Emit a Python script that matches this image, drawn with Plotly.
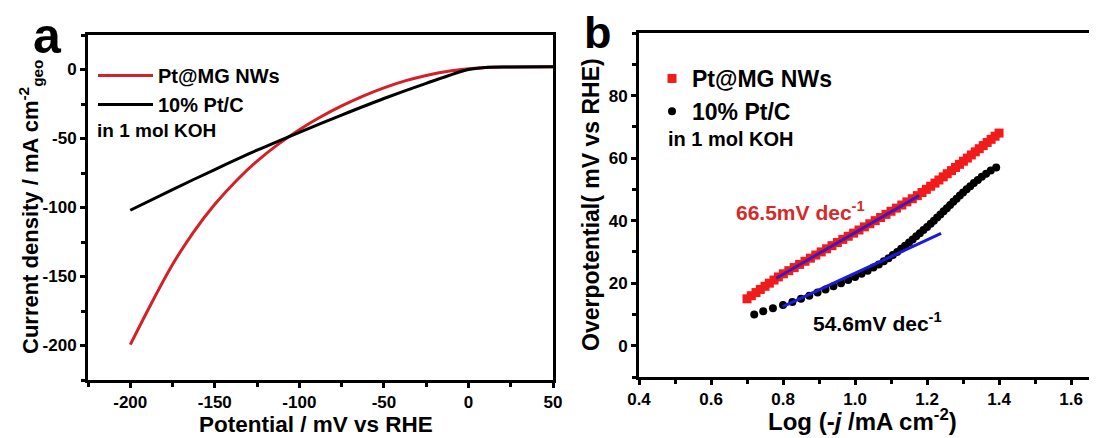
import plotly.graph_objects as go

# ---------------- Panel a: polarization curves ----------------
a_red_x = [-200, -188, -175, -163, -150, -137, -125, -112, -100, -87, -75, -62, -50, -37, -25, -12, 0, 10, 25, 50]
a_red_y = [-199.4, -170.6, -141.3, -118.5, -97.7, -80.2, -66.4, -53.7, -43.6, -34.1, -26.4, -19.1, -13.3, -8.1, -4.3, -1.2, 0.5, 1.5, 1.8, 2]
a_blk_x = [-200, -175, -150, -125, -100, -75, -50, -25, 0, 10, 25, 50]
a_blk_y = [-102, -87, -72.5, -58.5, -45.5, -33, -21, -10, 0, 1.5, 1.8, 2]
a_xtickvals = [-200, -150, -100, -50, 0, 50]
a_xticktext = ["-200", "-150", "-100", "-50", "0", "50"]
a_ytickvals = [0, -50, -100, -150, -200]
a_yticktext = ["0", "-50", "-100", "-150", "-200"]

# ---------------- Panel b: Tafel plots ----------------
b_red_x = [0.700, 0.712, 0.725, 0.737, 0.750, 0.762, 0.775, 0.787, 0.801, 0.816,
           0.831, 0.846, 0.861, 0.876, 0.891, 0.906, 0.921, 0.936, 0.951, 0.966,
           0.981, 0.996, 1.011, 1.026, 1.041, 1.056, 1.071, 1.086, 1.100, 1.115,
           1.130, 1.144, 1.159, 1.173, 1.186, 1.198, 1.210, 1.222, 1.233, 1.245,
           1.256, 1.268, 1.279, 1.290, 1.301, 1.312, 1.323, 1.334, 1.345, 1.356,
           1.367, 1.378, 1.389, 1.400]
b_red_y = [15, 16, 17, 18, 19, 20, 21, 22, 23, 24,
           25, 26, 27, 28, 29, 30, 31, 32, 33, 34,
           35, 36, 37, 38, 39, 40, 41, 42, 43, 44,
           45, 46, 47, 48, 49, 50, 51, 52, 53, 54,
           55, 56, 57, 58, 59, 60, 61, 62, 63, 64,
           65, 66, 67, 68]
b_blk_x = [0.720, 0.745, 0.772, 0.800, 0.826, 0.850, 0.873, 0.896, 0.918, 0.940,
           0.961, 0.981, 1.000, 1.018, 1.035, 1.051, 1.066, 1.080, 1.093, 1.105,
           1.117, 1.128, 1.139, 1.150, 1.160, 1.170, 1.180, 1.190, 1.200, 1.210,
           1.219, 1.228, 1.237, 1.246, 1.255, 1.264, 1.273, 1.282, 1.291, 1.300,
           1.310, 1.320, 1.330, 1.341, 1.352, 1.364, 1.377, 1.392]
b_blk_y = [10, 11, 12, 13, 14, 15, 16, 17, 18, 19,
           20, 21, 22, 23, 24, 25, 26, 27, 28, 29,
           30, 31, 32, 33, 34, 35, 36, 37, 38, 39,
           40, 41, 42, 43, 44, 45, 46, 47, 48, 49,
           50, 51, 52, 53, 54, 55, 56, 57]
fit_red_x = [0.781, 1.178]
fit_red_y = [21.6, 48.0]
fit_blk_x = [0.799, 1.239]
fit_blk_y = [12.5, 35.9]

series_names = ["Pt@MG NWs", "10% Pt/C"]
slope_labels = ["66.5mV dec<sup>-1</sup>", "54.6mV dec<sup>-1</sup>"]

# The page body keeps its default 8px margin, so the figure is sized to fill
# the rest of the 1097x438 window; positions below are given in window pixels.
OFF = 8
W, H = 1097 - OFF, 438 - OFF
FONT = "Arial, Liberation Sans, sans-serif"
RED_LINE = "#d42027"
RED_MK = "#f21b1b"
BLUE = "#1c1cd8"


def px(x):
    return (x - OFF) / W


def py(y):
    return 1 - (y - OFF) / H


fig = go.Figure()

fig.add_trace(go.Scatter(x=a_red_x, y=a_red_y, mode="lines", name=series_names[0],
                         line=dict(color=RED_LINE, width=3, shape="spline", smoothing=1.0),
                         xaxis="x", yaxis="y", legend="legend"))
fig.add_trace(go.Scatter(x=a_blk_x, y=a_blk_y, mode="lines", name=series_names[1],
                         line=dict(color="black", width=3, shape="spline", smoothing=0.8),
                         xaxis="x", yaxis="y", legend="legend"))

fig.add_trace(go.Scatter(x=b_red_x, y=b_red_y, mode="markers", name=series_names[0],
                         marker=dict(symbol="square", size=9, color=RED_MK),
                         xaxis="x2", yaxis="y2", legend="legend2"))
fig.add_trace(go.Scatter(x=b_blk_x, y=b_blk_y, mode="markers", name=series_names[1],
                         marker=dict(symbol="circle", size=8, color="black"),
                         xaxis="x2", yaxis="y2", legend="legend2"))
fig.add_trace(go.Scatter(x=fit_red_x, y=fit_red_y, mode="lines", showlegend=False,
                         line=dict(color=BLUE, width=3), opacity=0.85,
                         xaxis="x2", yaxis="y2"))
fig.add_trace(go.Scatter(x=fit_blk_x, y=fit_blk_y, mode="lines", showlegend=False,
                         line=dict(color=BLUE, width=3),
                         xaxis="x2", yaxis="y2"))

tickfont = dict(family=FONT, size=17, color="black", weight="bold")
axis_common = dict(showgrid=False, zeroline=False, showline=True, linecolor="black",
                   linewidth=3, ticks="outside", ticklen=5, tickwidth=2.5,
                   tickcolor="black", tickfont=tickfont, automargin=False)
minor_common = dict(ticks="outside", ticklen=4, tickwidth=2.5, tickcolor="black")

fig.update_layout(
    width=W, height=H,
    margin=dict(l=0, r=0, t=0, b=0),
    paper_bgcolor="white", plot_bgcolor="white",
    font=dict(family=FONT, color="black"),
    xaxis=dict(domain=[px(88), px(553)], range=[-225, 50],
               tickvals=a_xtickvals, ticktext=a_xticktext,
               mirror=True, anchor="y",
               minor=dict(dtick=25, tick0=-225, **minor_common),
               **axis_common),
    yaxis=dict(domain=[py(380), py(35)], range=[-225, 25],
               tickvals=a_ytickvals, ticktext=a_yticktext,
               mirror=True, anchor="x",
               minor=dict(dtick=25, tick0=0, **minor_common),
               **axis_common),
    xaxis2=dict(domain=[px(639), 1.0], range=[0.4, 1.672], tick0=0.4, dtick=0.2,
                tickformat=".1f", mirror=True, anchor="y2",
                minor=dict(dtick=0.1, tick0=0.4, **minor_common),
                **axis_common),
    yaxis2=dict(domain=[py(377), py(33)], range=[-10, 100],
                tickvals=[0, 20, 40, 60, 80],
                mirror=False, anchor="x2",
                minor=dict(dtick=10, tick0=0, **minor_common),
                **axis_common),
    legend=dict(x=px(93), y=py(56), xanchor="left", yanchor="top",
                bgcolor="rgba(0,0,0,0)", tracegroupgap=0, itemwidth=55,
                font=dict(family=FONT, size=20, color="black", weight="bold")),
    legend2=dict(x=px(652), y=py(57), xanchor="left", yanchor="top",
                 bgcolor="rgba(0,0,0,0)", tracegroupgap=0,
                 font=dict(family=FONT, size=23, color="black", weight="bold")),
)

ann = []
bold = dict(family=FONT, color="black", weight="bold")
# panel letters
ann.append(dict(text="a", x=px(31), y=py(36), xref="paper", yref="paper", xanchor="left",
                yanchor="middle", showarrow=False, font=dict(size=50, **bold)))
ann.append(dict(text="b", x=px(582), y=py(32), xref="paper", yref="paper", xanchor="left",
                yanchor="middle", showarrow=False, font=dict(size=45, **bold)))
# axis titles
ann.append(dict(text="Potential / mV vs RHE", x=px(316), y=py(424.5), xref="paper", yref="paper",
                xanchor="center", yanchor="middle", showarrow=False, font=dict(size=22.5, **bold)))
ann.append(dict(text="Current density / mA cm<sup>-2</sup><sub>geo</sub>", x=px(30), y=py(207),
                xref="paper", yref="paper", xanchor="center", yanchor="middle", textangle=-90,
                showarrow=False, font=dict(size=22, **bold)))
ann.append(dict(text="Log (-<i>j</i> /mA cm<sup>-2</sup>)", x=px(862), y=py(420), xref="paper", yref="paper",
                xanchor="center", yanchor="middle", showarrow=False, font=dict(size=24, **bold)))
ann.append(dict(text="Overpotential( mV vs RHE)", x=px(591), y=py(205), xref="paper", yref="paper",
                xanchor="center", yanchor="middle", textangle=-90, showarrow=False,
                font=dict(size=23, **bold)))
# condition notes
ann.append(dict(text="in 1 mol KOH", x=px(95), y=py(131), xref="paper", yref="paper",
                xanchor="left", yanchor="middle", showarrow=False, font=dict(size=19, **bold)))
ann.append(dict(text="in 1 mol KOH", x=px(666), y=py(139), xref="paper", yref="paper",
                xanchor="left", yanchor="middle", showarrow=False, font=dict(size=20, **bold)))
# slope labels
ann.append(dict(text=slope_labels[0], x=px(800), y=py(211), xref="paper", yref="paper",
                xanchor="center", yanchor="middle", showarrow=False,
                font=dict(family=FONT, size=21, color="#d42a2a", weight="bold")))
ann.append(dict(text=slope_labels[1], x=px(877), y=py(322), xref="paper", yref="paper",
                xanchor="center", yanchor="middle", showarrow=False, font=dict(size=21, **bold)))
fig.update_layout(annotations=ann)

fig.write_html("out.html")
